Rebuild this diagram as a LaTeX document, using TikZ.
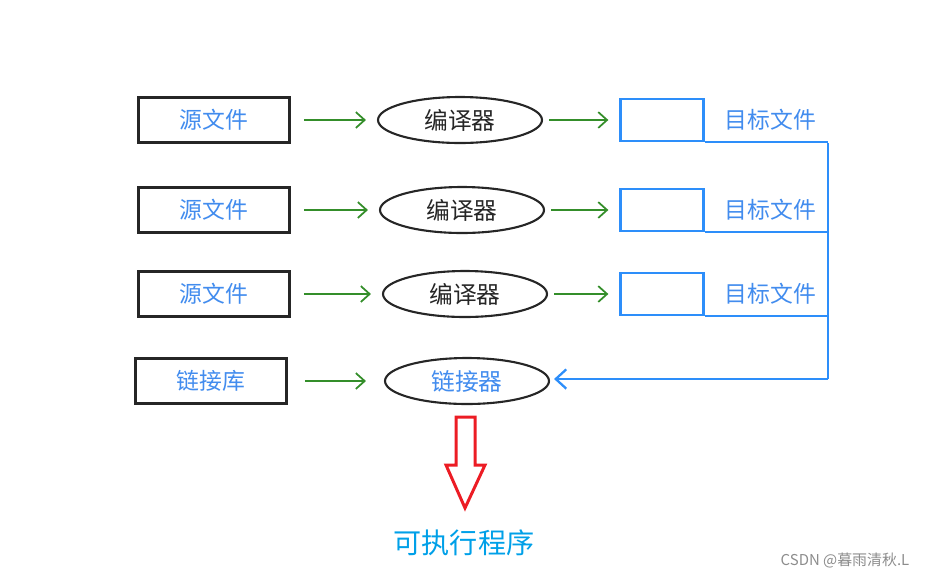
\documentclass[tikz,border=0pt]{standalone}
\usepackage{fontspec}
\newfontfamily\cjk{Noto Sans CJK SC}
\usetikzlibrary{arrows.meta, positioning, shapes.geometric}

\definecolor{txtblue}{RGB}{66,140,238}
\definecolor{lineblue}{RGB}{45,142,250}
\definecolor{flowgreen}{RGB}{52,142,42}
\definecolor{outcyan}{RGB}{0,160,232}
\definecolor{markred}{RGB}{236,28,36}

\tikzset{
  srcbox/.style={draw=black!85, line width=1.5pt, minimum width=3.02cm, minimum height=0.9cm,
    inner sep=0pt, text=txtblue, font=\cjk\fontsize{13}{15}\selectfont},
  compiler/.style={ellipse, draw=black!85, line width=1.2pt, minimum width=3.28cm, minimum height=0.92cm,
    inner sep=0pt, text=black!85, font=\cjk\fontsize{13.5}{15}\selectfont},
  objbox/.style={draw=lineblue, line width=1.3pt, minimum width=1.66cm, minimum height=0.84cm, inner sep=0pt},
  objlabel/.style={text=txtblue, inner sep=0pt, font=\cjk\fontsize{13}{15}\selectfont},
  flow/.style={flowgreen, line width=1pt, -{Straight Barb[length=5pt,width=9pt]}},
  busline/.style={lineblue, line width=1.3pt}
}

\begin{document}
\begin{tikzpicture}[x=0.02cm, y=-0.02cm]
  \useasboundingbox (0,0) rectangle (949,579);

  % bus on the right
  \coordinate (bustop) at (828,143);
  \coordinate (busend) at (828,379);

  % three compile rows
  \foreach \i/\y/\cx in {1/120/460,2/210/462,3/294/465} {
    \node[srcbox] (src\i) at (214,\y) {源文件};
    \node[compiler] (cc\i) at (\cx,\y) {编译器};
    \node[objbox] (obj\i) at (662,\y) {};
    \node[objlabel, right=0.4cm of obj\i] (lbl\i) {目标文件};
    \draw[flow, shorten <=0.26cm, shorten >=0.22cm] (src\i) -- (cc\i);
    \draw[flow, shorten <=0.12cm, shorten >=0.22cm] (cc\i) -- (obj\i);
    \draw[busline] (obj\i.south east) -- (obj\i.south east -| bustop);
  }

  % linker row
  \node[srcbox] (lib) at (211,381) {链接库};
  \node[compiler, text=txtblue] (link) at (467,381) {链接器};
  \draw[flow, shorten <=0.34cm, shorten >=0.36cm] (lib) -- (link);

  % objects go to the linker
  \draw[busline] (bustop) -- (busend);
  \draw[busline, -{Straight Barb[length=6pt,width=11pt]}, shorten >=0.08cm] (busend) -- (busend -| link.east);

  % hollow red arrow
  \draw[markred, line width=1.7pt, line join=miter]
    (456,417) -- (475,417) -- (475,465) -- (485,465) -- (465,508) -- (446,465) -- (456,465) -- cycle;

  \node[text=outcyan, font=\cjk\fontsize{16}{18}\selectfont] (exe) at (464,543) {可执行程序};

  \node[text=black!45, font=\cjk\fontsize{8.5}{10}\selectfont] (mark) at (845,561) {CSDN @暮雨清秋.L};
\end{tikzpicture}
\end{document}
